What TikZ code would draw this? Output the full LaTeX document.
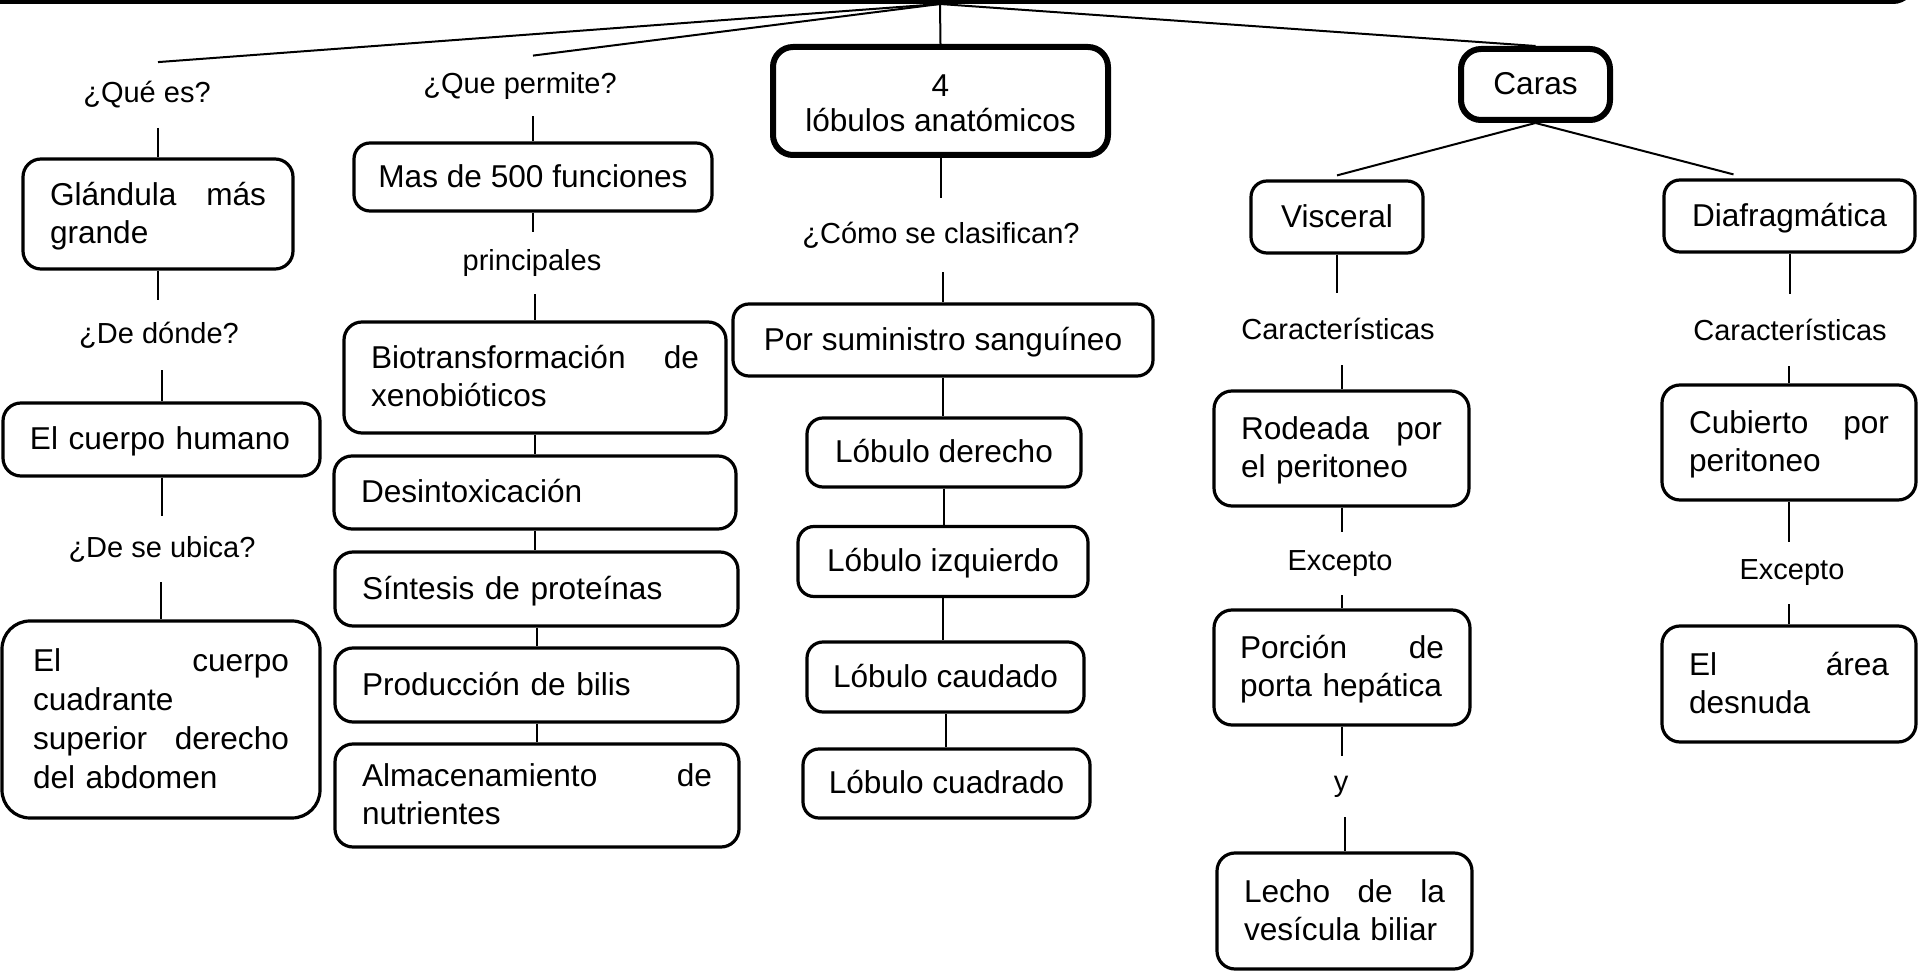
\documentclass[tikz,border=0pt]{standalone}
\usepackage{fontspec}
\setmainfont{Liberation Sans}
\newcommand{\cmBoxFont}{\fontsize{15.8}{19}\selectfont}
\newcommand{\cmLblFont}{\fontsize{14.5}{17}\selectfont}
\newcommand{\cmTop}{\rule{0pt}{0.85em}}
\newcommand{\cmBot}{\rule[-0.21em]{0pt}{0pt}}
\begin{document}
\begin{tikzpicture}[x=0.5pt,y=-0.5pt,
  bx/.style={draw, line width=1.6pt, rounded corners=9pt, inner xsep=13.5pt, inner ysep=0pt, align=left, font=\cmBoxFont,
     execute at begin node=\cmTop, execute at end node=\cmBot},
  cb/.style={draw, line width=1.6pt, rounded corners=8pt, inner sep=0pt, align=center, font=\cmBoxFont,
     execute at begin node=\cmTop, execute at end node=\cmBot},
  thickbx/.style={draw, line width=3pt, rounded corners=10pt, inner sep=0pt, align=center, font=\cmBoxFont,
     execute at begin node=\cmTop, execute at end node=\cmBot},
  bigr/.style={rounded corners=14pt},
  lbl/.style={inner sep=0pt, align=center, font=\cmLblFont},
  ln/.style={line width=1pt}]
\useasboundingbox (0,0) rectangle (1919,972);

% root (cut off at the top)
\node[thickbx, minimum width=973pt, minimum height=40.5pt] (root) at (940,-39.5) {};

% column 1
\node[lbl, minimum height=32.5pt] (que) at (147,95) {¿Qué es?};
\node[bx, text width=108pt, minimum height=55pt] (glan) at (158,214) {Glándula\hfill más\\grande};
\node[lbl, minimum height=35pt] (donde) at (159,335) {¿De dónde?};
\node[bx, text width=131.5pt, minimum height=36.5pt] (cuerpo) at (161.5,439.5) {El cuerpo humano};
\node[lbl, minimum height=33pt] (ubl) at (162,549) {¿De se ubica?};
\node[bx, bigr, inner xsep=15.5pt, text width=128pt, minimum height=98.5pt, font=\fontsize{15.8}{19.5}\selectfont] (ubica) at (161,719.5) {El\hfill cuerpo\\cuadrante\\superior\hfill derecho\\del abdomen};

% column 2
\node[lbl, minimum height=30pt] (perm) at (520,86) {¿Que permite?};
\node[cb, minimum width=179pt, minimum height=34pt] (mas) at (533,177) {Mas de 500 funciones};
\node[lbl, minimum height=31pt] (princ) at (532,263) {principales};
\node[bx, text width=164pt, minimum height=55.5pt] (bio) at (535,377.5) {Biotransformación\hfill de\\xenobióticos};
\node[bx, text width=174pt, minimum height=36.5pt] (desin) at (535,492.5) {Desintoxicación};
\node[bx, text width=174.5pt, minimum height=37pt] (sint) at (536.5,589) {Síntesis de proteínas};
\node[bx, text width=174.5pt, minimum height=37pt] (prod) at (536.5,685) {Producción de bilis};
\node[bx, text width=175pt, minimum height=51.5pt] (alm) at (537,795.5) {Almacenamiento\hfill de\\nutrientes};

% column 3
\node[thickbx, minimum width=167.5pt, minimum height=54pt, font=\fontsize{15.8}{17.5}\selectfont] (lob) at (940.5,101) {\rule{0pt}{16.8pt}4\\lóbulos anatómicos};
\node[lbl, minimum height=37pt] (como) at (941,235) {¿Cómo se clasifican?};
\node[cb, minimum width=210pt, minimum height=36pt] (sum) at (943,340) {Por suministro sanguíneo};
\node[cb, minimum width=137pt, minimum height=34.5pt] (lder) at (944,452.5) {Lóbulo derecho};
\node[cb, minimum width=145pt, minimum height=35pt] (lizq) at (943,561.5) {Lóbulo izquierdo};
\node[cb, minimum width=138.5pt, minimum height=35pt] (lcau) at (945.5,677) {Lóbulo caudado};
\node[cb, minimum width=143.5pt, minimum height=34.5pt] (lcua) at (946.5,783.5) {Lóbulo cuadrado};

% column 4
\node[thickbx, minimum width=74.5pt, minimum height=35.5pt] (caras) at (1535.5,84.5) {Caras};
\node[cb, minimum width=86pt, minimum height=36pt] (visc) at (1337,217) {Visceral};
\node[lbl, minimum height=36pt] (carV) at (1338,329) {Características};
\node[bx, text width=100.5pt, minimum height=57.5pt] (rod) at (1341.5,448.5) {Rodeada\hfill por\\el peritoneo};
\node[lbl, minimum height=31.5pt] (excV) at (1340,563.5) {Excepto};
\node[bx, inner xsep=13pt, text width=102pt, minimum height=57.5pt] (porc) at (1342,667.5) {Porción\hfill de\\\mbox{porta hepática}};
\node[lbl, minimum height=30.5pt] (yl) at (1341,786.5) {y};
\node[bx, text width=100.5pt, minimum height=58pt] (lecho) at (1344.5,911) {Lecho\hfill de\hfill la\\vesícula biliar};

% column 5
\node[cb, minimum width=125.5pt, minimum height=36pt] (diaf) at (1789.5,216) {Diafragmática};
\node[lbl, minimum height=36pt] (carD) at (1790,330) {Características};
\node[bx, text width=100pt, minimum height=57.5pt] (cub) at (1789,442.5) {Cubierto\hfill por\\peritoneo};
\node[lbl, minimum height=31pt] (excD) at (1792,573) {Excepto};
\node[bx, text width=100pt, minimum height=58pt] (area) at (1789,684) {El\hfill área\\desnuda};

% connectors from root
\draw[ln] (root.south) -- (glan.north |- que.north);
\draw[ln] (root.south) -- (mas.north |- perm.north);
\draw[ln] (root.south) -- (lob.north);
\draw[ln] (root.south) -- (caras.north);

% column 1
\draw[ln] (glan.north |- que.south) -- (glan.north);
\draw[ln] (glan.south) -- (glan.south |- donde.north);
\draw[ln] (cuerpo.north |- donde.south) -- (cuerpo.north);
\draw[ln] (cuerpo.south) -- (cuerpo.south |- ubl.north);
\draw[ln] (ubica.north |- ubl.south) -- (ubica.north);

% column 2
\draw[ln] (mas.north |- perm.south) -- (mas.north);
\draw[ln] (mas.south) -- (mas.south |- princ.north);
\draw[ln] (bio.north |- princ.south) -- (bio.north);
\draw[ln] (bio.south) -- (bio.south |- desin.north);
\draw[ln] (desin.south) -- (desin.south |- sint.north);
\draw[ln] (sint.south) -- (sint.south |- prod.north);
\draw[ln] (prod.south) -- (prod.south |- alm.north);

% column 3
\draw[ln] (lob.south) -- (lob.south |- como.north);
\draw[ln] (sum.north |- como.south) -- (sum.north);
\draw[ln] (sum.south) -- (sum.south |- lder.north);
\draw[ln] (lder.south) -- (lder.south |- lizq.north);
\draw[ln] (lizq.south) -- (lizq.south |- lcau.north);
\draw[ln] (lcau.south) -- (lcau.south |- lcua.north);

% column 4
\draw[ln] (caras.south) -- ([yshift=2pt]visc.north);
\draw[ln] (caras.south) -- ([xshift=-28pt,yshift=2pt]diaf.north);
\draw[ln] (visc.south) -- (visc.south |- carV.north);
\draw[ln] (rod.north |- carV.south) -- (rod.north);
\draw[ln] (rod.south) -- (rod.south |- excV.north);
\draw[ln] (porc.north |- excV.south) -- (porc.north);
\draw[ln] (porc.south) -- (porc.south |- yl.north);
\draw[ln] (lecho.north |- yl.south) -- (lecho.north);

% column 5
\draw[ln] (diaf.south) -- (diaf.south |- carD.north);
\draw[ln] (cub.north |- carD.south) -- (cub.north);
\draw[ln] (cub.south) -- (cub.south |- excD.north);
\draw[ln] (area.north |- excD.south) -- (area.north);
\end{tikzpicture}
\end{document}
